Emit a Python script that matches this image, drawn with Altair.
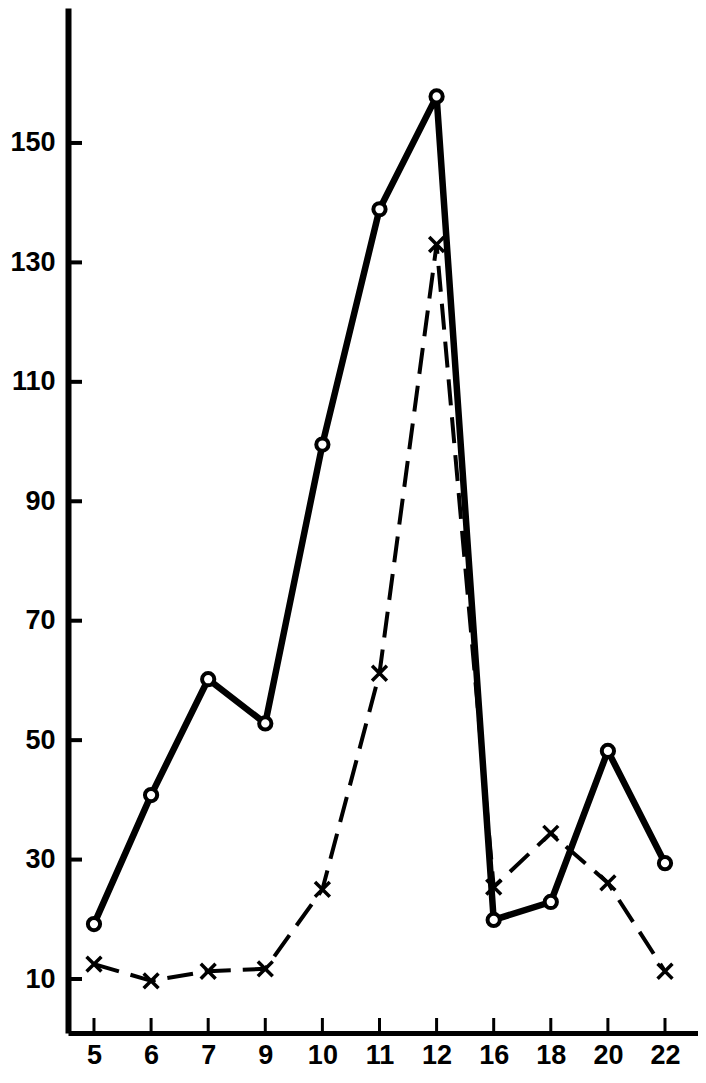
import altair as alt
import pandas as pd

categories = ["5", "6", "7", "9", "10", "11", "12", "16", "18", "20", "22"]
solid_values = [19.2, 40.8, 60.2, 52.8, 99.5, 138.9, 157.8, 19.9, 22.9, 48.2, 29.4]
dashed_values = [12.5, 9.7, 11.3, 11.7, 25.0, 61.2, 133.0, 25.4, 34.4, 26.1, 11.3]
y_ticks = [10, 30, 50, 70, 90, 110, 130, 150]

W, H = 630, 1025

idx = list(range(len(categories)))
df_solid = pd.DataFrame({"i": idx, "v": solid_values})
df_dash = pd.DataFrame({"i": idx, "v": dashed_values})
df_yt = pd.DataFrame({"v": y_ticks})
df_xt = pd.DataFrame({"i": idx})

label_arr = "[" + ",".join("'" + c + "'" for c in categories) + "]"

xscale = alt.Scale(domain=[-0.455, 10.578], nice=False, zero=False)
yscale = alt.Scale(domain=[0.96, 172.6], nice=False, zero=False)

FONT = "Liberation Sans"

xaxis = alt.Axis(
    values=idx, labelExpr=label_arr + "[datum.value]", title=None, grid=False,
    ticks=False, domainWidth=5, domainColor="black", labelFont=FONT,
    labelFontSize=27, labelFontWeight="bold", labelColor="black", labelPadding=9,
)
yaxis = alt.Axis(
    values=y_ticks, title=None, grid=False, ticks=False, domainWidth=6,
    domainColor="black", labelFont=FONT, labelFontSize=27, labelFontWeight="bold",
    labelColor="black", labelPadding=13,
)

base_x = alt.X("i:Q", scale=xscale, axis=xaxis)
base_y = alt.Y("v:Q", scale=yscale, axis=yaxis)

solid_line = alt.Chart(df_solid).mark_line(color="black", strokeWidth=6.5, strokeJoin="round").encode(x=base_x, y=base_y)
solid_pts = alt.Chart(df_solid).mark_point(
    shape="circle", filled=True, fill="white", stroke="black", strokeWidth=4, size=150, opacity=1
).encode(x=alt.X("i:Q", scale=xscale), y=alt.Y("v:Q", scale=yscale))

dash_line = alt.Chart(df_dash).mark_line(color="black", strokeWidth=4, strokeDash=[26, 12]).encode(
    x=alt.X("i:Q", scale=xscale), y=alt.Y("v:Q", scale=yscale))
dash_pts = alt.Chart(df_dash).mark_point(
    shape="M-1,-1L1,1M-1,1L1,-1", stroke="black", strokeWidth=3.5, size=220, filled=False, opacity=1
).encode(x=alt.X("i:Q", scale=xscale), y=alt.Y("v:Q", scale=yscale))

ytick_rules = alt.Chart(df_yt).mark_rule(color="black", strokeWidth=4).encode(
    y=alt.Y("v:Q", scale=yscale), x=alt.value(0), x2=alt.value(14))
xtick_rules = alt.Chart(df_xt).mark_rule(color="black", strokeWidth=3).encode(
    x=alt.X("i:Q", scale=xscale), y=alt.value(H), y2=alt.value(H - 15))

chart = alt.layer(
    dash_line, solid_line, ytick_rules, xtick_rules, solid_pts, dash_pts
).properties(
    width=W, height=H,
    autosize=alt.AutoSizeParams(type="none"),
    padding={"left": 60, "top": 0, "right": 0, "bottom": 50},
).configure(background="white").configure_view(stroke=None)

chart.save("out.html", embed_options={"renderer": "svg", "actions": False})
